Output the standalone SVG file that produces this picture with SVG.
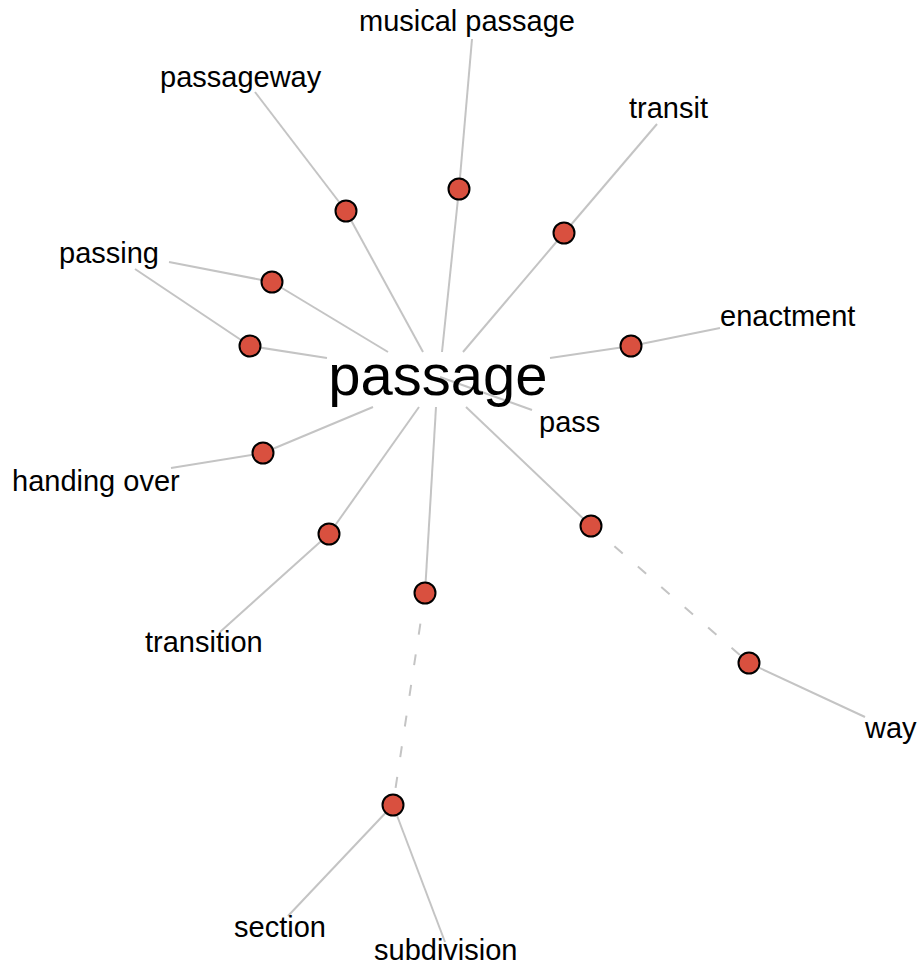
<svg xmlns="http://www.w3.org/2000/svg" width="920" height="966" viewBox="0 0 920 966">
<style>
.e{stroke:#c4c4c4;stroke-width:2;fill:none}
.d{stroke-dasharray:11,20}
.dot{fill:#d9503f;stroke:#000;stroke-width:2}
.t{font-family:"Liberation Sans",Arial,Helvetica,sans-serif;font-size:29px;fill:#000}
.c{font-size:58px}
</style>
<rect width="920" height="966" fill="#fff"/>
<g id="edges">
<line class="e" x1="440" y1="377" x2="532" y2="410"/>
<line class="e" x1="423" y1="352" x2="346" y2="211"/>
<line class="e" x1="346" y1="211" x2="255" y2="92"/>
<line class="e" x1="442" y1="352" x2="459" y2="189"/>
<line class="e" x1="459" y1="189" x2="472" y2="39"/>
<line class="e" x1="463" y1="352" x2="564" y2="233"/>
<line class="e" x1="564" y1="233" x2="657" y2="124"/>
<line class="e" x1="550" y1="358" x2="631" y2="346"/>
<line class="e" x1="631" y1="346" x2="720" y2="328"/>
<line class="e" x1="388" y1="352" x2="272" y2="282"/>
<line class="e" x1="272" y1="282" x2="169" y2="262"/>
<line class="e" x1="327" y1="358" x2="250" y2="346"/>
<line class="e" x1="250" y1="346" x2="135" y2="269"/>
<line class="e" x1="373" y1="407" x2="263" y2="453"/>
<line class="e" x1="263" y1="453" x2="171" y2="468"/>
<line class="e" x1="419" y1="407" x2="329" y2="534"/>
<line class="e" x1="329" y1="534" x2="220" y2="632"/>
<line class="e" x1="436" y1="407" x2="425" y2="593"/>
<line class="e d" x1="425" y1="593" x2="393" y2="805"/>
<line class="e" x1="393" y1="805" x2="288" y2="916"/>
<line class="e" x1="393" y1="805" x2="445" y2="942"/>
<line class="e" x1="466" y1="407" x2="591" y2="526"/>
<line class="e d" x1="591" y1="526" x2="749" y2="663"/>
<line class="e" x1="749" y1="663" x2="865" y2="717"/>
</g>
<g id="n-passage"><text class="t c" x="438" y="395" text-anchor="middle">passage</text></g>
<g id="n-pass"><text class="t" x="539" y="432">pass</text></g>
<g id="n-passageway"><text class="t" x="160" y="87">passageway</text></g>
<g id="n-musical-passage"><text class="t" x="359" y="31">musical passage</text></g>
<g id="n-transit"><text class="t" x="629" y="118">transit</text></g>
<g id="n-enactment"><text class="t" x="720" y="326">enactment</text></g>
<g id="n-passing"><text class="t" x="59" y="263">passing</text></g>
<g id="n-handing-over"><text class="t" x="12" y="491">handing over</text></g>
<g id="n-transition"><text class="t" x="145" y="652">transition</text></g>
<g id="n-way"><text class="t" x="865" y="738">way</text></g>
<g id="n-section"><text class="t" x="234" y="937">section</text></g>
<g id="n-subdivision"><text class="t" x="374" y="960">subdivision</text></g>
<g id="s1"><circle class="dot" cx="346" cy="211" r="10.5"/></g>
<g id="s2"><circle class="dot" cx="459" cy="189" r="10.5"/></g>
<g id="s3"><circle class="dot" cx="564" cy="233" r="10.5"/></g>
<g id="s4"><circle class="dot" cx="631" cy="346" r="10.5"/></g>
<g id="s5"><circle class="dot" cx="272" cy="282" r="10.5"/></g>
<g id="s6"><circle class="dot" cx="250" cy="346" r="10.5"/></g>
<g id="s7"><circle class="dot" cx="263" cy="453" r="10.5"/></g>
<g id="s8"><circle class="dot" cx="329" cy="534" r="10.5"/></g>
<g id="s9"><circle class="dot" cx="425" cy="593" r="10.5"/></g>
<g id="s10"><circle class="dot" cx="393" cy="805" r="10.5"/></g>
<g id="s11"><circle class="dot" cx="591" cy="526" r="10.5"/></g>
<g id="s12"><circle class="dot" cx="749" cy="663" r="10.5"/></g>
</svg>
